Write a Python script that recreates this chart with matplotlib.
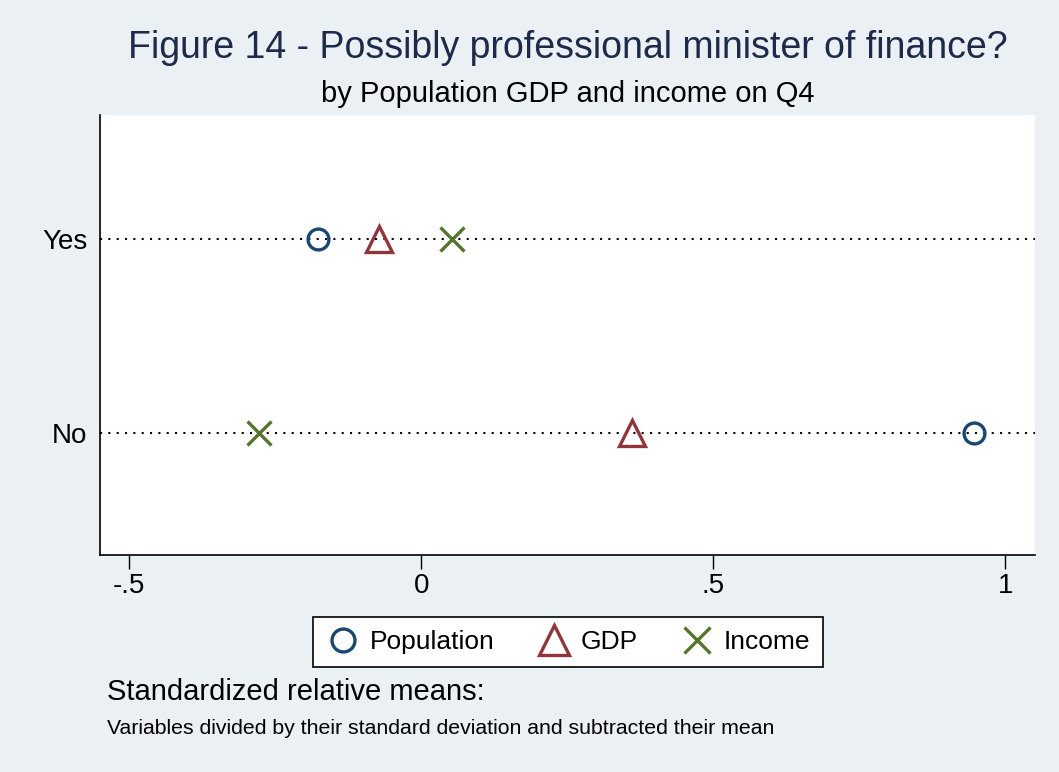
import matplotlib.pyplot as plt
import numpy as np

plt.rcParams['font.family'] = ['Liberation Sans', 'DejaVu Sans']

groups = ['No', 'Yes']
population = [0.947, -0.176]
gdp = [0.361, -0.072]
income = [-0.277, 0.053]

bg = '#eaf0f3'
c_pop = '#1a476f'
c_gdp = '#90353b'
c_inc = '#55752f'

fig = plt.figure(figsize=(10.59, 7.72), dpi=100, facecolor=bg)
ax = fig.add_axes([100/1059, 1-555/772, 935/1059, 440/772])
ax.set_facecolor('white')

ypos = np.arange(len(groups))
for y in ypos:
    ax.axhline(y, color='black', linestyle=(0, (1, 3)), linewidth=1.5, zorder=1)

ax.plot(population, ypos, linestyle='none', marker='o', markersize=15, markerfacecolor='none',
        markeredgecolor=c_pop, markeredgewidth=2.4, label='Population', zorder=3)
ax.plot(gdp, ypos, linestyle='none', marker='^', markersize=19, markerfacecolor='none',
        markeredgecolor=c_gdp, markeredgewidth=2.4, label='GDP', zorder=3)
ax.plot(income, ypos, linestyle='none', marker='x', markersize=17,
        markeredgecolor=c_inc, markeredgewidth=2.4, label='Income', zorder=3)

ax.set_xlim(-0.55, 1.051)
ax.set_ylim(-0.629, 1.639)
ax.set_xticks([-0.5, 0, 0.5, 1])
ax.set_xticklabels(['-.5', '0', '.5', '1'], fontsize=20)
ax.set_yticks(ypos)
ax.set_yticklabels(groups, fontsize=20)
ax.tick_params(axis='x', length=10, width=1, pad=3)
ax.tick_params(axis='y', length=0, pad=9)
for s in ['top', 'right']:
    ax.spines[s].set_visible(False)
for s in ['left', 'bottom']:
    ax.spines[s].set_linewidth(1.2)

fig.text(568/1059, 1-48/772, 'Figure 14 - Possibly professional minister of finance?',
         ha='center', va='center', fontsize=27, color='#1e2a4a')
fig.text(568/1059, 1-94/772, 'by Population GDP and income on Q4',
         ha='center', va='center', fontsize=21, color='black')

leg = fig.legend(loc='center', bbox_to_anchor=(568/1059, 1-642/772), ncol=3, fontsize=19,
                 frameon=True, fancybox=False, edgecolor='black', facecolor='white',
                 handletextpad=0.35, columnspacing=1.6, borderpad=0.5, handlelength=1.3,
                 framealpha=1, markerscale=1.1)
leg.get_frame().set_linewidth(1.2)

fig.text(107/1059, 1-692/772, 'Standardized relative means:', ha='left', va='center',
         fontsize=21, color='black')
fig.text(107/1059, 1-728/772, 'Variables divided by their standard deviation and subtracted their mean',
         ha='left', va='center', fontsize=15.3, color='black')

fig.savefig('out.png', dpi=100, facecolor=bg)
